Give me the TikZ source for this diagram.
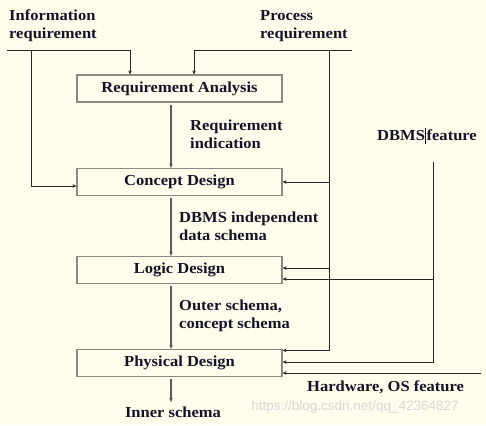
\documentclass[tikz,border=0pt]{standalone}
\usepackage{fontspec}
\setmainfont{Liberation Serif}[FakeStretch=1.08]
\newfontfamily\wmfont{Liberation Sans}
\usetikzlibrary{arrows.meta}
\definecolor{bg}{HTML}{FFFCEB}
\definecolor{txt}{HTML}{141428}
\definecolor{boxline}{HTML}{8A8A80}
\definecolor{midline}{HTML}{5A5A5A}
\begin{document}
\begin{tikzpicture}[x=1pt,y=-1pt,
  font=\bfseries\fontsize{15.3}{18}\selectfont, text=txt,
  box/.style={draw=boxline, line width=1.2pt, minimum width=205pt, minimum height=27pt, inner sep=0pt, fill=bg},
  arr/.style={-{Stealth[length=4pt,width=3.5pt]}, line width=0.9pt, draw=black!85},
  midarr/.style={arr, draw=midline, line width=1.1pt, shorten <=2pt},
  lbl/.style={align=left, anchor=base west, inner sep=0pt}]
\fill[bg] (0,0) rectangle (486,425);
\useasboundingbox (0,0) rectangle (486,425);
% boxes
\node[box] (ra) at (179.5,88.5) {Requirement Analysis};
\node[box] (cd) at (179.5,182) {Concept Design};
\node[box] (ld) at (179.5,270) {Logic Design};
\node[box] (pd) at (179.5,363) {Physical Design};
% labels (base anchor = baseline of last line)
\node[lbl] (inf) at (9,39) {Information\\requirement};
\node[lbl] (proc) at (260,39) {Process\\requirement};
\node[lbl] (rind) at (190,148) {Requirement\\indication};
\node[lbl] (dind) at (179,240) {DBMS independent\\data schema};
\node[lbl] (outs) at (179,328) {Outer schema,\\concept schema};
\node[lbl] (dbf) at (377,140) {DBMS\hspace{0.5pt}\rule[-4pt]{0.7pt}{16pt}\hspace{0.5pt}feature};
\node[lbl] (hw) at (307,391) {Hardware, OS feature};
\node[lbl, anchor=base] (is) at (173,417) {Inner schema};
\node[text=black!16, font=\wmfont\fontsize{13.5}{14}\selectfont, inner sep=0pt] (wm) at (355,407) {https://blog.csdn.net/qq\_42364827};
% information requirement
\coordinate (i0) at (7,50);
\coordinate (i1) at (130,50);
\coordinate (i2) at (31,50);
\draw[arr] (i0) -- (i1) -- (i1 |- ra.north);
\draw[arr] (i2) |- ([yshift=-4pt]cd.west);
% process requirement
\coordinate (p0) at (352,50);
\coordinate (p1) at (194,50);
\coordinate (p2) at (329,50);
\coordinate (p4) at (329,268);
\draw[arr] (p0) -- (p1) -- (p1 |- ra.north);
\draw[arr] (p2) |- ([yshift=-1.5pt]pd.north east);
\draw[arr] (p2 |- cd.east) -- (cd.east);
\draw[arr] (p4) -- (p4 -| ld.east);
% DBMS feature
\coordinate (d0) at (433,162);
\coordinate (d1) at (433,279);
\draw[arr] (d0) |- ([yshift=1pt]pd.east);
\draw[arr] (d1) -- (d1 -| ld.east);
% hardware
\coordinate (h0) at (481,373);
\draw[arr] (h0) -- (h0 -| pd.east);
% main flow
\draw[midarr] ([xshift=-8.5pt]ra.south) -- ([xshift=-8.5pt]cd.north);
\draw[midarr] ([xshift=-8.5pt]cd.south) -- ([xshift=-8.5pt]ld.north);
\draw[midarr] ([xshift=-8.5pt]ld.south) -- ([xshift=-8.5pt]pd.north);
\draw[midarr] ([xshift=-8.5pt]pd.south) -- ++(0,25);
\end{tikzpicture}
\end{document}
